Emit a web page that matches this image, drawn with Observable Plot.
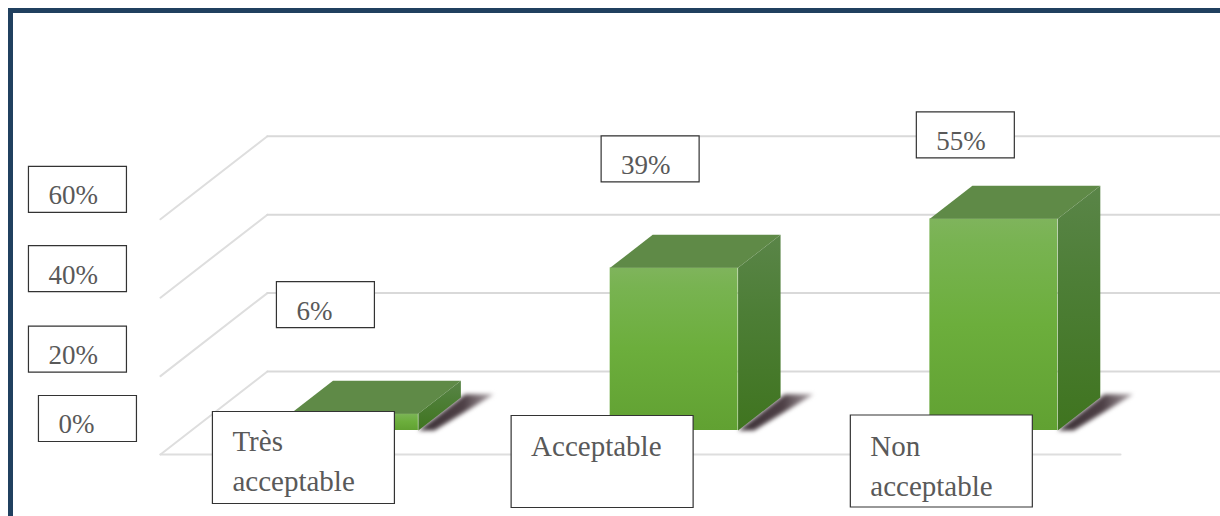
<!DOCTYPE html>
<html>
<head>
<meta charset="utf-8">
<script src="https://cdn.jsdelivr.net/npm/d3@7"></script>
<script src="https://cdn.jsdelivr.net/npm/@observablehq/plot@0.6"></script>
<style>
  html, body { margin: 0; padding: 0; background: #fff; overflow: hidden; }
  #chart { position: relative; width: 1220px; height: 516px; }
  #chart svg { display: block; }
  #border { position: absolute; left: 8px; top: 8px; right: 0; bottom: 0;
            border-left: 5px solid #20405f; border-top: 5px solid #20405f; pointer-events: none; }
</style>
</head>
<body>
<div id="chart"><div id="border"></div></div>
<script>
// Data
const categories = ["Très\nacceptable", "Acceptable", "Non\nacceptable"];
const valueLabels = ["6%", "39%", "55%"];
const barHeights = [4.3, 41.5, 54];          // heights as drawn in the picture
const ticks = [0, 20, 40, 60];

// Pseudo-3D projection: depth shifts a point along x and y in scale units
const depthX = 0.133, depthY = 8.42;
const halfBar = 0.2;
const wall = {x0: -0.51, x1: 2.493, front: -0.727, back: 1.788};
const px = (x, d) => x + d * depthX;
const py = (v, d) => v + d * depthY;
const pt = (group, x, v, d) => ({group, x: px(x, d), y: py(v, d)});

const bars = barHeights.map((h, i) => ({i, h, l: i - halfBar, r: i + halfBar}));
const polys = (fn) => bars.flatMap(fn);

const gridPaths = ticks.flatMap(t => [
  pt("d" + t, wall.x0, t, wall.front),
  pt("d" + t, wall.x0, t, wall.back)
]);
const gridBack = ticks.flatMap(t => [
  pt("b" + t, wall.x0, t, wall.back),
  pt("b" + t, wall.x1, t, wall.back)
]);
const floorFront = [pt("f", wall.x0, 0, wall.front), pt("f", wall.x1, 0, wall.front)];

const shadows = polys(b => [
  pt(b.i, b.r, 0, 0),
  pt(b.i, b.r, 0, 1.1),
  pt(b.i, b.r + 0.09, 0, 1.1),
  pt(b.i, b.r + 0.05, 0, 0)
]);
const tops = polys(b => [
  pt(b.i, b.l, b.h, 0), pt(b.i, b.l, b.h, 1), pt(b.i, b.r, b.h, 1), pt(b.i, b.r, b.h, 0)
]);
const sides = polys(b => [
  pt(b.i, b.r, 0, 0), pt(b.i, b.r, b.h, 0), pt(b.i, b.r, b.h, 1), pt(b.i, b.r, 0, 1)
]);

// Label box: a white rectangle of fixed pixel size centred on its anchor
const boxSymbol = (w, h) => ({
  draw(ctx) {
    ctx.moveTo(-w / 2, -h / 2); ctx.lineTo(w / 2, -h / 2);
    ctx.lineTo(w / 2, h / 2); ctx.lineTo(-w / 2, h / 2); ctx.closePath();
  }
});
const ink = "#595959";
const font = "Liberation Serif";
function boxed(text, x, y, opts) {
  const {w, h, dx, dy, size, tdy = 3} = opts;
  return [
    Plot.dot([{x, y}], {x: "x", y: "y", r: 1, dx, dy, symbol: boxSymbol(w, h),
      fill: "#fff", stroke: "#333", strokeWidth: 1.2}),
    Plot.text([{x, y, text}], {x: "x", y: "y", text: "text", dx: dx - w / 2 + 20, dy: dy + tdy,
      textAnchor: "start", fontFamily: font, fontSize: size, fill: ink, lineHeight: 1.38})
  ];
}

const tickBox = [
  {dx: -73, dy: -36}, {dx: -83, dy: -27}, {dx: -83, dy: -29}, {dx: -83, dy: -30}
];
const valueBox = [
  {dx: -29, dy: -109}, {dx: -24, dy: -109}, {dx: -28.5, dy: -84}
];
const catBox = [
  {dx: -51, dy: 27, tdy: 1}, {dx: -72, dy: 31, tdy: -18}, {dx: -52.5, dy: 30.5, tdy: 2}
];

const defs = () => {
  const s = d3.create("svg:g");
  const d = s.append("defs");
  const grad = (id, x2, y2, stops) => {
    const g = d.append("linearGradient").attr("id", id)
      .attr("x1", 0).attr("y1", 0).attr("x2", x2).attr("y2", y2);
    stops.forEach(([o, c]) => g.append("stop").attr("offset", o).attr("stop-color", c));
  };
  grad("front", 0, 1, [[0, "#7fb45c"], [0.12, "#78b351"], [0.5, "#6cae3c"], [1, "#61a132"]]);
  grad("side", 0, 1, [[0, "#5a8548"], [0.4, "#4d7e36"], [1, "#3f741f"]]);
  grad("shadow", 1, 0, [[0, "#3b3036"], [0.6, "#4e4046"], [1, "#b0a8ac"]]);
  return s.node();
};

const chart = Plot.plot({
  width: 1220, height: 516,
  marginTop: 0, marginRight: 0, marginBottom: 0, marginLeft: 0,
  style: {background: "transparent"},
  x: {domain: [-1.107, 2.709], range: [0, 1220], axis: null},
  y: {domain: [109.7, -21.94], range: [0, 516], axis: null},
  marks: [
    defs,
    Plot.line(gridPaths, {x: "x", y: "y", z: "group", stroke: "#dedede", strokeWidth: 2, imageFilter: "blur(0.7px)"}),
    Plot.line(gridBack, {x: "x", y: "y", z: "group", stroke: "#d9d9d9", strokeWidth: 2, imageFilter: "blur(0.5px)"}),
    Plot.line(floorFront, {x: "x", y: "y", z: "group", stroke: "#dedede", strokeWidth: 2, imageFilter: "blur(0.5px)"}),
    Plot.line(shadows, {x: "x", y: "y", z: "group", fill: "url(#shadow)", stroke: "none", imageFilter: "blur(2px)"}),
    Plot.rect(bars, {x1: "l", x2: "r", y1: 0, y2: "h", fill: "url(#front)"}),
    Plot.line(tops, {x: "x", y: "y", z: "group", fill: "#5f8a47", stroke: "none"}),
    Plot.line(sides, {x: "x", y: "y", z: "group", fill: "url(#side)", stroke: "none"}),
    ...ticks.flatMap((t, i) => boxed(t + "%", px(wall.x0, wall.front), py(t, wall.front),
      {w: 98, h: 46, size: 27, ...tickBox[i]})),
    ...valueLabels.flatMap((v, i) => boxed(v, i, barHeights[i],
      {w: 98, h: 46, size: 27, ...valueBox[i]})),
    ...categories.flatMap((c, i) => boxed(c, i, 0,
      {w: 182, h: 92, size: 29, ...catBox[i]}))
  ]
});
document.getElementById("chart").prepend(chart);
</script>
</body>
</html>
